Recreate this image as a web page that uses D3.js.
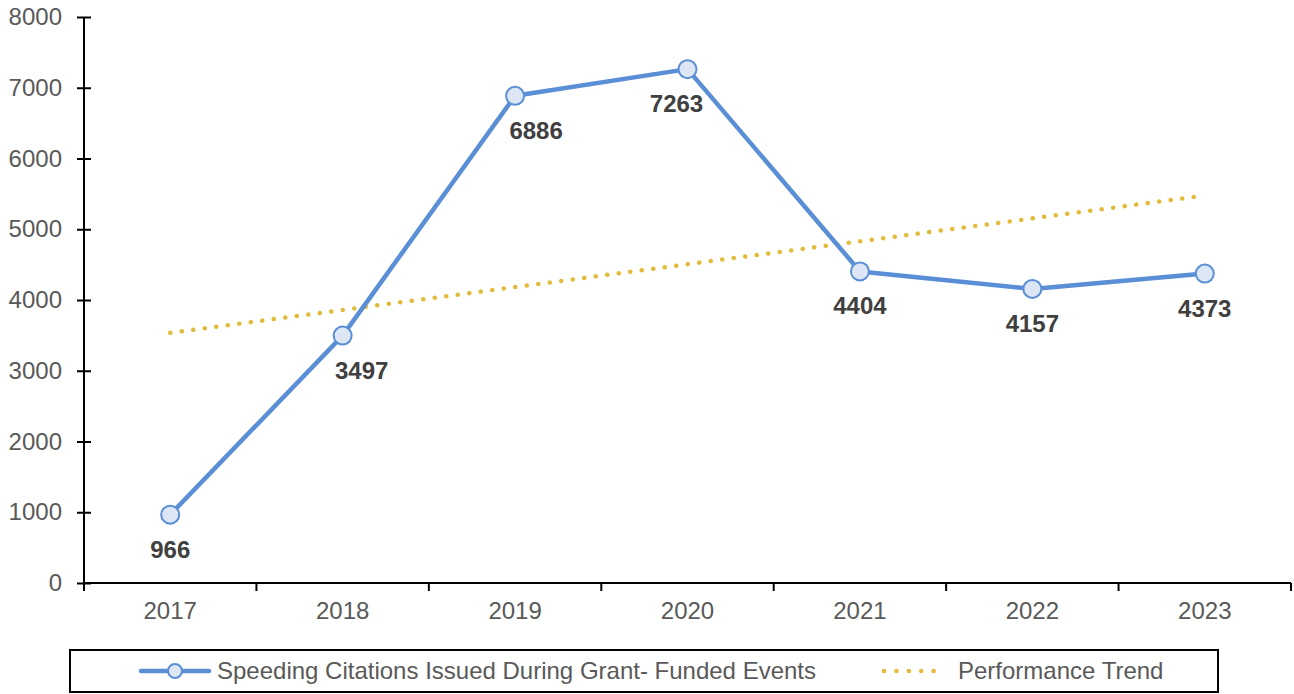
<!DOCTYPE html>
<html>
<head>
<meta charset="utf-8">
<script src="https://cdn.jsdelivr.net/npm/d3@7"></script>
<style>
  body { margin: 0; background: #fff; }
  svg { display: block; font-family: "Liberation Sans", Arial, sans-serif; }
</style>
</head>
<body>
<div id="chart"></div>
<script>
// data
const years = ["2017", "2018", "2019", "2020", "2021", "2022", "2023"];
const citations = [966, 3497, 6886, 7263, 4404, 4157, 4373];
// linear trend, start and end values (2017 -> 2023)
const trendYears = ["2017", "2023"];
const trendValues = [3536, 5477];
const yTicks = [0, 1000, 2000, 3000, 4000, 5000, 6000, 7000, 8000];
const seriesName = "Speeding Citations Issued During Grant- Funded Events";
const trendName = "Performance Trend";

const width = 1294;
const height = 694;
const marginTop = 17;
const marginRight = 3;
const marginBottom = 111;
const marginLeft = 84;

const blue = "#5A8FD6";
const gold = "#E3BB3C";
const fontSize = 24;

// labels nudged sideways so they clear the line (layout only)
const labelNudge = { "2018": 19, "2019": 21, "2020": -11 };

const x = d3.scaleBand()
    .domain(years)
    .range([marginLeft, width - marginRight])
    .padding(0);

const y = d3.scaleLinear()
    .domain([0, 8000])
    .range([height - marginBottom, marginTop]);

const cx = d => x(d) + x.bandwidth() / 2;

const svg = d3.select("#chart").append("svg")
    .attr("width", width)
    .attr("height", height)
    .attr("viewBox", [0, 0, width, height]);

// y axis
svg.append("g")
    .attr("transform", `translate(${marginLeft},0)`)
    .call(d3.axisLeft(y).tickValues(yTicks).tickSize(7).tickPadding(15).tickFormat(d3.format("d")))
    .call(g => g.select(".domain").attr("stroke", "#000").attr("stroke-width", 2).attr("d", `M0,${y(0)}V${y(8000)}`))
    .call(g => g.selectAll(".tick line").clone().attr("x2", 7))
    .call(g => g.selectAll(".tick line").attr("stroke", "#000").attr("stroke-width", 2))
    .call(g => g.selectAll(".tick text").attr("fill", "#595959").attr("font-size", fontSize).attr("font-family", "Liberation Sans, Arial, sans-serif"));

// x axis
const xTickPos = years.map(d => x(d)).concat([width - marginRight]);
svg.append("g")
    .attr("transform", `translate(0,${y(0)})`)
    .call(d3.axisBottom(x).tickSize(0).tickPadding(19))
    .call(g => g.select(".domain").attr("stroke", "#000").attr("stroke-width", 2).attr("d", `M${marginLeft},0H${width - marginRight}`))
    .call(g => g.selectAll(".tick text").attr("fill", "#595959").attr("font-size", fontSize).attr("font-family", "Liberation Sans, Arial, sans-serif"));

svg.append("g")
    .selectAll("line")
    .data(xTickPos)
    .join("line")
    .attr("x1", d => d).attr("x2", d => d)
    .attr("y1", y(0)).attr("y2", y(0) + 8)
    .attr("stroke", "#000").attr("stroke-width", 2);

// trend line
svg.append("path")
    .datum(trendYears.map((d, i) => ({ year: d, value: trendValues[i] })))
    .attr("d", d3.line().x(d => cx(d.year)).y(d => y(d.value)))
    .attr("fill", "none")
    .attr("stroke", gold)
    .attr("stroke-width", 4.5)
    .attr("stroke-linecap", "round")
    .attr("stroke-dasharray", "0.1 11.5");

// data line
const pts = years.map((d, i) => ({ year: d, value: citations[i] }));
svg.append("path")
    .datum(pts)
    .attr("d", d3.line().x(d => cx(d.year)).y(d => y(d.value)))
    .attr("fill", "none")
    .attr("stroke", blue)
    .attr("stroke-width", 4.5)
    .attr("stroke-linejoin", "round");

svg.append("g")
    .selectAll("circle")
    .data(pts)
    .join("circle")
    .attr("cx", d => cx(d.year))
    .attr("cy", d => y(d.value))
    .attr("r", 9)
    .attr("fill", "#DCE6F4")
    .attr("stroke", blue)
    .attr("stroke-width", 2);

// data labels
svg.append("g")
    .selectAll("text")
    .data(pts)
    .join("text")
    .attr("x", d => cx(d.year) + (labelNudge[d.year] || 0))
    .attr("y", d => y(d.value) + 43)
    .attr("text-anchor", "middle")
    .attr("font-size", fontSize)
    .attr("font-weight", "bold")
    .attr("fill", "#404040")
    .text(d => d.value);

// legend
const legend = svg.append("g");
legend.append("rect")
    .attr("x", 70).attr("y", 650)
    .attr("width", 1148).attr("height", 42)
    .attr("fill", "#fff")
    .attr("stroke", "#000")
    .attr("stroke-width", 2);

legend.append("line")
    .attr("x1", 141).attr("x2", 209)
    .attr("y1", 671).attr("y2", 671)
    .attr("stroke", blue).attr("stroke-width", 4.5).attr("stroke-linecap", "round");
legend.append("circle")
    .attr("cx", 175).attr("cy", 671).attr("r", 7)
    .attr("fill", "#DCE6F4").attr("stroke", blue).attr("stroke-width", 2);
legend.append("text")
    .attr("x", 217).attr("y", 679)
    .attr("font-size", fontSize).attr("fill", "#595959")
    .text(seriesName);

legend.append("line")
    .attr("x1", 884).attr("x2", 946)
    .attr("y1", 671).attr("y2", 671)
    .attr("stroke", gold).attr("stroke-width", 4.5).attr("stroke-linecap", "round")
    .attr("stroke-dasharray", "0.1 12.3");
legend.append("text")
    .attr("x", 958).attr("y", 679)
    .attr("font-size", fontSize).attr("fill", "#595959")
    .text(trendName);
</script>
</body>
</html>
